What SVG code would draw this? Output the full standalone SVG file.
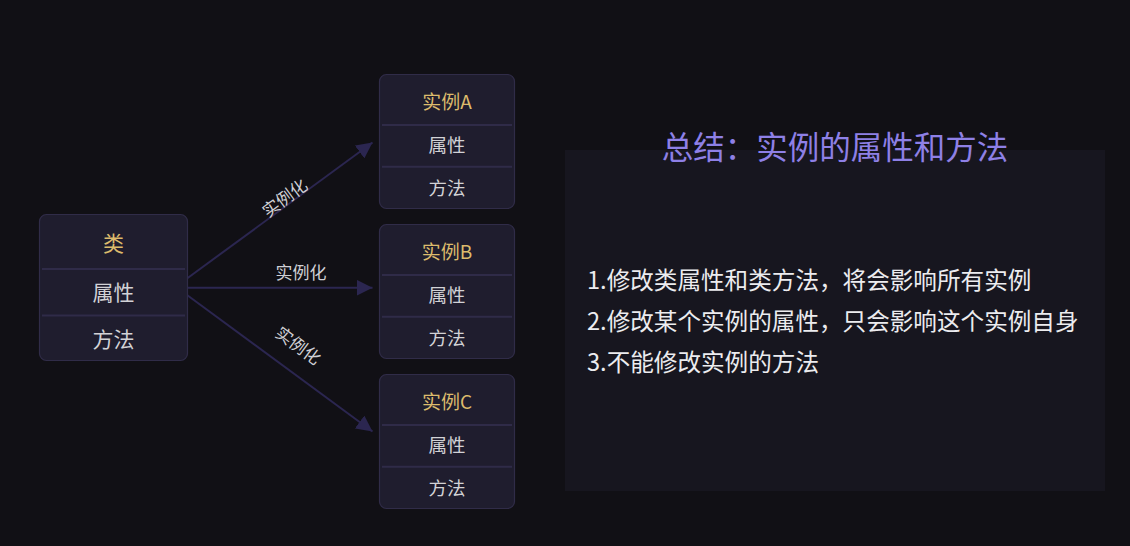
<svg xmlns="http://www.w3.org/2000/svg" width="1130" height="546" viewBox="0 0 1130 546">
<defs>
<style>
.box{fill:#1f1d2e;stroke:#302c48;stroke-width:1.2}
.div{stroke:#2f2b48;stroke-width:2}
.hd{fill:#dcbb6c;font-family:"Noto Sans CJK SC","Liberation Sans",sans-serif;text-anchor:middle;dominant-baseline:central}
.row{fill:#d2d2d6;font-family:"Noto Sans CJK SC","Liberation Sans",sans-serif;text-anchor:middle;dominant-baseline:central}
.edge{stroke:#2b2650;stroke-width:2;fill:none;marker-end:url(#arr)}
.lbl{fill:#cfcfd4;font-family:"Noto Sans CJK SC","Liberation Sans",sans-serif;font-size:17px;text-anchor:middle;dominant-baseline:central}
.body{fill:#ececef;font-family:"Noto Sans CJK SC","Liberation Sans",sans-serif;font-size:23.6px;dominant-baseline:central}
</style>
<marker id="arr" viewBox="0 0 16 16" refX="16" refY="8" markerWidth="16" markerHeight="16" markerUnits="userSpaceOnUse" orient="auto">
<path d="M0,0 L16,8 L0,16 Z" fill="#2b2650"/>
</marker>
</defs>
<rect width="1130" height="546" fill="#111015"/>

<g id="connectors">
<line class="edge" x1="187" y1="278.5" x2="372.5" y2="142.5"/>
<line class="edge" x1="187" y1="287.7" x2="372.5" y2="287.7"/>
<line class="edge" x1="187" y1="295" x2="372.5" y2="431.5"/>
<text class="lbl" transform="translate(284,197) rotate(-36.3)">实例化</text>
<text class="lbl" x="301" y="271">实例化</text>
<text class="lbl" transform="translate(299,344.5) rotate(36.4)">实例化</text>
</g>

<g id="class">
<rect class="box" x="39.5" y="214.5" width="148" height="146" rx="7"/>
<line class="div" x1="42" y1="269" x2="185" y2="269"/>
<line class="div" x1="42" y1="315.5" x2="185" y2="315.5"/>
<text class="hd" x="113.5" y="242" font-size="21">类</text>
<text class="row" x="113.5" y="291" font-size="21">属性</text>
<text class="row" x="113.5" y="337.5" font-size="21">方法</text>
</g>

<g id="instanceA">
<rect class="box" x="379.5" y="74.5" width="135" height="134" rx="7"/>
<line class="div" x1="382" y1="125" x2="512" y2="125"/>
<line class="div" x1="382" y1="166.7" x2="512" y2="166.7"/>
<text class="hd" x="447" y="100.5" font-size="19">实例A</text>
<text class="row" x="447" y="143.8" font-size="18.5">属性</text>
<text class="row" x="447" y="186.8" font-size="18.5">方法</text>
</g>

<g id="instanceB">
<rect class="box" x="379.5" y="224.5" width="135" height="134" rx="7"/>
<line class="div" x1="382" y1="275" x2="512" y2="275"/>
<line class="div" x1="382" y1="316.7" x2="512" y2="316.7"/>
<text class="hd" x="447" y="250.5" font-size="19">实例B</text>
<text class="row" x="447" y="293.8" font-size="18.5">属性</text>
<text class="row" x="447" y="336.8" font-size="18.5">方法</text>
</g>

<g id="instanceC">
<rect class="box" x="379.5" y="374.5" width="135" height="134" rx="7"/>
<line class="div" x1="382" y1="425" x2="512" y2="425"/>
<line class="div" x1="382" y1="466.7" x2="512" y2="466.7"/>
<text class="hd" x="447" y="400.5" font-size="19">实例C</text>
<text class="row" x="447" y="443.8" font-size="18.5">属性</text>
<text class="row" x="447" y="486.8" font-size="18.5">方法</text>
</g>

<g id="summary">
<rect x="565" y="150" width="540" height="341" fill="#17161f"/>
<text x="835" y="145" fill="#8e80e6" font-family="'Noto Sans CJK SC','Liberation Sans',sans-serif" font-size="31.5" text-anchor="middle" dominant-baseline="central">总结：实例的属性和方法</text>
<text class="body" x="587" y="279">1.修改类属性和类方法，将会影响所有实例</text>
<text class="body" x="587" y="319.5">2.修改某个实例的属性，只会影响这个实例自身</text>
<text class="body" x="587" y="360.5">3.不能修改实例的方法</text>
</g>
</svg>
